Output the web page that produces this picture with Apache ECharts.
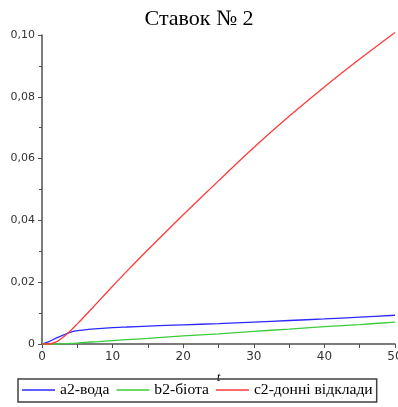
<!DOCTYPE html>
<html>
<head>
<meta charset="utf-8">
<script src="https://cdn.jsdelivr.net/npm/echarts@6/dist/echarts.min.js"></script>
<style>
html,body{margin:0;padding:0;background:#fff;}
#chart{width:398px;height:407px;}
</style>
</head>
<body>
<div id="chart"></div>
<script>
var titleText = 'Ставок № 2';
var seriesNames = ['a2-вода', 'b2-біота', 'c2-донні відклади'];
var tValues = [0, 1, 2, 3, 4, 5, 6, 8, 10, 12, 15, 20, 25, 30, 35, 40, 45, 50];
var waterA2 = [0, 0.0008, 0.0019, 0.0029, 0.0038, 0.0043, 0.0046, 0.0050, 0.0053, 0.0055, 0.0058, 0.0062, 0.0066, 0.0071, 0.0076, 0.0081, 0.0087, 0.0093];
var biotaB2 = [0, 0, 0, 0.0001, 0.0002, 0.0003, 0.0005, 0.0008, 0.0011, 0.0014, 0.0018, 0.0026, 0.0033, 0.0041, 0.0048, 0.0056, 0.0063, 0.0071];
var sedimentC2 = [0, 0, 0.0007, 0.0022, 0.0042, 0.0065, 0.0089, 0.0138, 0.0187, 0.0235, 0.0305, 0.0418, 0.0528, 0.0636, 0.0737, 0.0832, 0.0922, 0.1008];
var xTicks = [0, 10, 20, 30, 40, 50];
var yTicks = [0, 0.02, 0.04, 0.06, 0.08, 0.10];

function pairs(vals) { return tValues.map(function (t, i) { return [t, vals[i]]; }); }

var colors = ['#2a2aff', '#3ccc3c', '#ff3a3a'];
var chart = echarts.init(document.getElementById('chart'));
var axisColor = '#505050';
chart.setOption({
  animation: false,
  title: {
    text: titleText, left: 'center', top: 3,
    textStyle: { fontFamily: 'Liberation Serif', fontSize: 22, fontWeight: 'normal', color: '#000' }
  },
  grid: { left: 42, right: 3, top: 35, bottom: 63, containLabel: false, outerBoundsMode: 'none' },
  legend: {
    left: 18, top: 379,
    data: seriesNames,
    icon: 'rect', itemWidth: 33, itemHeight: 1.5, itemGap: 7,
    padding: [3, 4, 4, 4],
    borderColor: '#404040', borderWidth: 1.5,
    textStyle: { fontFamily: 'Liberation Serif', fontSize: 15.6, color: '#000' }
  },
  xAxis: {
    type: 'value', min: xTicks[0], max: xTicks[xTicks.length - 1], interval: 10,
    name: 't', nameLocation: 'middle', nameGap: 27,
    nameTextStyle: { fontFamily: 'Liberation Serif', fontStyle: 'italic', fontSize: 13, color: '#000' },
    axisLine: { lineStyle: { color: axisColor, width: 1.5 } },
    axisTick: { length: 4, lineStyle: { color: axisColor } },
    minorTick: { show: true, splitNumber: 2, length: 4, lineStyle: { color: axisColor } },
    splitLine: { show: false },
    axisLabel: { fontFamily: 'DejaVu Sans', fontSize: 12, color: '#333', margin: 7 }
  },
  yAxis: {
    type: 'value', min: yTicks[0], max: yTicks[yTicks.length - 1], interval: 0.02,
    axisLine: { show: true, lineStyle: { color: axisColor, width: 1.5 } },
    axisTick: { show: true, length: 4, lineStyle: { color: axisColor } },
    minorTick: { show: true, splitNumber: 2, length: 3, lineStyle: { color: axisColor } },
    splitLine: { show: false },
    axisLabel: {
      fontFamily: 'DejaVu Sans', fontSize: 11, color: '#333', margin: 7,
      formatter: function (v) { return v === 0 ? '0' : v.toFixed(2).replace('.', ','); }
    }
  },
  series: [
    { name: seriesNames[0], type: 'line', data: pairs(waterA2), showSymbol: false, symbol: 'none', smooth: 0.3, clip: false, color: colors[0], lineStyle: { width: 1.3 } },
    { name: seriesNames[1], type: 'line', data: pairs(biotaB2), showSymbol: false, symbol: 'none', smooth: 0.3, clip: false, color: colors[1], lineStyle: { width: 1.3 } },
    { name: seriesNames[2], type: 'line', data: pairs(sedimentC2), showSymbol: false, symbol: 'none', smooth: 0.3, clip: false, color: colors[2], lineStyle: { width: 1.3 } }
  ]
});
</script>
</body>
</html>
